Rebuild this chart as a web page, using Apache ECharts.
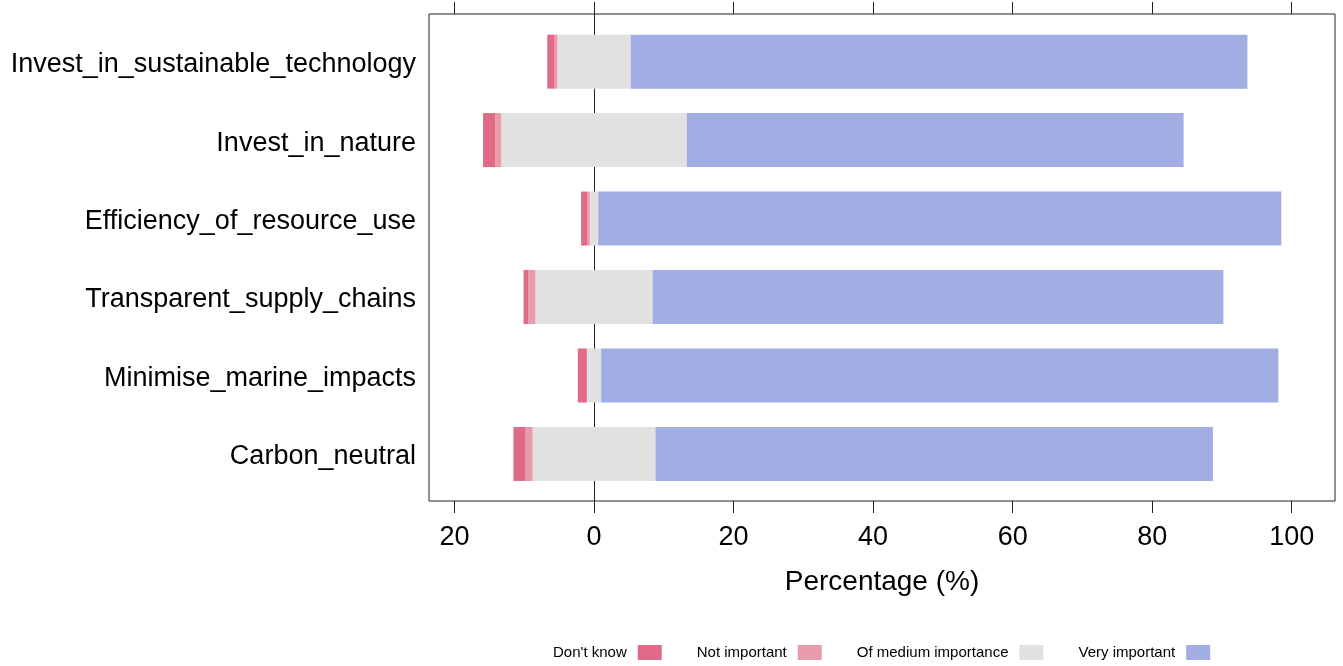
<!DOCTYPE html>
<html>
<head>
<meta charset="utf-8">
<script src="https://cdn.jsdelivr.net/npm/echarts@6/dist/echarts.min.js"></script>
<style>html,body{margin:0;padding:0;background:#fff}#c{width:1343px;height:666px}</style>
</head>
<body>
<div id="c"></div>
<script>
const categories = ['Invest_in_sustainable_technology', 'Invest_in_nature', 'Efficiency_of_resource_use', 'Transparent_supply_chains', 'Minimise_marine_impacts', 'Carbon_neutral'];
const dontKnow = [1.05, 1.75, 0.85, 0.65, 1.3, 1.75];
const notImportant = [0.4, 0.85, 0.4, 1.05, 0, 1.0];
const mediumImportance = [10.5, 26.6, 1.2, 16.8, 2.05, 17.6];
const veryImportant = [88.4, 71.2, 97.9, 81.8, 97.05, 79.9];
const tickValues = [-20, 0, 20, 40, 60, 80, 100];
const legendNames = ["Don't know", 'Not important', 'Of medium importance', 'Very important'];

const XMIN = -23.65, XMAX = 106.2;
const FONT = "'Liberation Sans', Arial, sans-serif";
const C_DK = '#E16A86', C_NI = '#E89BAA', C_MED = '#E1E1E1', C_VI = '#A1ADE3';
const BAR_W = 54;

const chart = echarts.init(document.getElementById('c'), null, {renderer: 'canvas'});
const stack = 'likert';
function barSeries(name, data, color) {
  return {
    name: name, type: 'bar', xAxisIndex: 2, yAxisIndex: 1, stack: stack,
    data: data, barWidth: BAR_W, itemStyle: {color: color}, silent: true
  };
}
chart.setOption({
  animation: false,
  textStyle: {fontFamily: FONT},
  grid: [
    {left: 429, top: 14, width: 906, height: 487, show: true, borderColor: '#222', borderWidth: 1, backgroundColor: 'transparent'},
    {left: 429, top: 22.4, width: 906, height: 470.8}
  ],
  xAxis: [
    {
      gridIndex: 0, type: 'value', position: 'bottom', min: XMIN, max: XMAX,
      splitLine: {show: false},
      axisLine: {show: false, onZero: false},
      axisTick: {show: true, customValues: tickValues, length: 12, lineStyle: {color: '#222'}},
      axisLabel: {customValues: tickValues, formatter: v => String(Math.abs(v)), fontSize: 27, color: '#000', margin: 23, fontFamily: FONT},
      name: 'Percentage (%)', nameLocation: 'middle', nameGap: 67,
      nameTextStyle: {fontSize: 28, color: '#000', fontFamily: FONT}
    },
    {
      gridIndex: 0, type: 'value', position: 'top', min: XMIN, max: XMAX,
      splitLine: {show: false},
      axisLine: {show: false, onZero: false},
      axisTick: {show: true, customValues: tickValues, length: 12, lineStyle: {color: '#222'}},
      axisLabel: {show: false}
    },
    {gridIndex: 1, type: 'value', min: XMIN, max: XMAX, show: false, axisLine: {onZero: false}, splitLine: {show: false}}
  ],
  yAxis: [
    {
      gridIndex: 0, type: 'value', min: 0, max: 1,
      axisLine: {show: true, onZero: true, onZeroAxisIndex: 0, lineStyle: {color: '#222', width: 1}},
      axisTick: {show: false}, axisLabel: {show: false}, splitLine: {show: false}
    },
    {
      gridIndex: 1, type: 'category', data: categories, inverse: true,
      axisLine: {show: false}, axisTick: {show: false}, splitLine: {show: false},
      axisLabel: {
        margin: 13,
        formatter: v => '{t|' + v + '}',
        rich: {t: {fontSize: 27, color: '#000', fontFamily: FONT, padding: [6, 0, 0, 0]}}
      }
    }
  ],
  legend: {
    left: 553, top: 645, padding: 0, data: legendNames, align: 'right', icon: 'rect',
    itemWidth: 24, itemHeight: 15, itemGap: 35,
    textStyle: {fontSize: 15, color: '#000', fontFamily: FONT, padding: [2, 6, 0, 0]}
  },
  series: [
    barSeries('Of medium importance', mediumImportance.map(v => -v / 2), C_MED),
    barSeries('Of medium importance', mediumImportance.map(v => v / 2), C_MED),
    barSeries('Not important', notImportant.map(v => -v), C_NI),
    barSeries("Don't know", dontKnow.map(v => -v), C_DK),
    barSeries('Very important', veryImportant, C_VI)
  ]
});
</script>
</body>
</html>
